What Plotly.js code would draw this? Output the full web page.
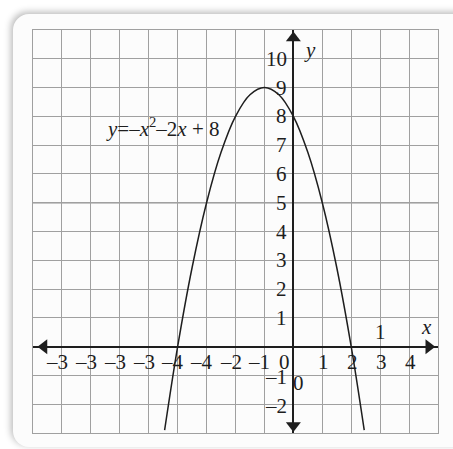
<!DOCTYPE html>
<html>
<head>
<meta charset="utf-8">
<script src="https://cdn.plot.ly/plotly-3.0.1.min.js"></script>
<style>
  html, body { margin: 0; padding: 0; background: #ffffff; width: 453px; height: 449px; overflow: hidden; }
  #card { position: absolute; left: 13px; top: 14px; width: 470px; height: 433px;
          background: #fcfcfc; border-radius: 16px;
          box-shadow: -2px -2px 7px rgba(0,0,0,0.28); }
  #chart { position: absolute; left: 0; top: 0; width: 453px; height: 449px; }
</style>
</head>
<body>
<div id="card"></div>
<div id="chart"></div>
<script>
// Curve points (y = -x^2 - 2x + 8)
const curveX = [-4.45, -4, -3.5, -3, -2.5, -2, -1.5, -1, -0.5, 0, 0.5, 1, 1.5, 2, 2.45];
const curveY = [-2.9, 0, 2.75, 5, 6.75, 8, 8.75, 9, 8.75, 8, 6.75, 5, 2.75, 0, -2.9];

// Tick labels as printed in the picture
const xTickVals = [-8, -7, -6, -5, -4, -3, -2, -1, 0, 1, 2, 3, 4];
const xTickText = ["\u20133", "\u20133", "\u20133", "\u20133", "\u20134", "\u20134", "\u20132", "\u20131", "0", "1", "2", "3", "4"];
const yTickVals = [10, 9, 8, 7, 6, 5, 4, 3, 2, 1, -1, -2];
const yTickText = ["10", "9", "8", "7", "6", "5", "4", "3", "2", "1", "\u20131", "\u20132"];

// Extra stray labels printed in the picture
const strayX = [0.17, 3];
const strayY = [-1.25, 0.5];
const strayText = ["0", "1"];

const eqText = "<i>y</i>=\u2013<i>x</i><sup>2</sup>\u20132<i>x</i> + 8";
const eqPos = [-4.5, 7.6];

const xRange = [-9, 5];
const yRange = [-3, 11];

const FONT = "'Liberation Serif', 'Times New Roman', serif";
const INK = "#1e1e1e";
const GRID = "#a0a0a0";
const FS = 21;

const annotations = [];
xTickVals.forEach((v, i) => {
  const t = xTickText[i];
  let shift = 1;
  if (t.startsWith("\u2013")) shift = -5;
  if (t === "0") shift = -9;
  annotations.push({ x: v, y: 0, xref: "x", yref: "y", text: t, showarrow: false,
    xanchor: "center", yanchor: "middle", xshift: shift, yshift: -15,
    font: { family: FONT, size: FS, color: INK } });
});
yTickVals.forEach((v, i) => {
  annotations.push({ x: 0, y: v, xref: "x", yref: "y", text: yTickText[i], showarrow: false,
    xanchor: "right", yanchor: "middle", xshift: -4, yshift: v < 0 ? -2 : 0,
    font: { family: FONT, size: FS, color: INK } });
});
strayX.forEach((v, i) => {
  annotations.push({ x: v, y: strayY[i], xref: "x", yref: "y", text: strayText[i], showarrow: false,
    xanchor: "center", yanchor: "middle",
    font: { family: FONT, size: FS, color: INK } });
});
annotations.push({ x: 0.57, y: 10.3, xref: "x", yref: "y", text: "<i>y</i>", showarrow: false,
  font: { family: FONT, size: FS, color: INK } });
annotations.push({ x: 4.6, y: 0.67, xref: "x", yref: "y", text: "<i>x</i>", showarrow: false,
  font: { family: FONT, size: FS, color: INK } });
annotations.push({ x: eqPos[0], y: eqPos[1], xref: "x", yref: "y", text: eqText, showarrow: false,
  xanchor: "center", yanchor: "middle",
  font: { family: FONT, size: FS, color: INK } });

const traces = [
  { x: curveX, y: curveY, mode: "lines", type: "scatter",
    line: { color: INK, width: 1.5, shape: "spline", smoothing: 1.0 }, hoverinfo: "skip" },
  { x: [4.68, -8.62, 0, 0], y: [0, 0, 10.72, -2.74], mode: "markers", type: "scatter",
    marker: { symbol: ["triangle-right", "triangle-left", "triangle-up", "triangle-down"],
              size: 13, color: INK, line: { width: 0 } },
    cliponaxis: false, hoverinfo: "skip" }
];

const layout = {
  width: 453, height: 449,
  margin: { l: 33, r: 15, t: 30, b: 16, pad: 0 },
  font: { family: FONT, size: FS, color: INK },
  paper_bgcolor: "rgba(0,0,0,0)",
  plot_bgcolor: "rgba(0,0,0,0)",
  showlegend: false,
  xaxis: { range: xRange, dtick: 1, tick0: 0, showgrid: true, gridcolor: GRID, gridwidth: 1,
           zeroline: true, zerolinecolor: INK, zerolinewidth: 2,
           showline: true, mirror: true, linecolor: GRID, linewidth: 1,
           ticks: "", showticklabels: false, fixedrange: true },
  yaxis: { range: yRange, dtick: 1, tick0: 0, showgrid: true, gridcolor: GRID, gridwidth: 1,
           zeroline: true, zerolinecolor: INK, zerolinewidth: 2,
           showline: true, mirror: true, linecolor: GRID, linewidth: 1,
           ticks: "", showticklabels: false, fixedrange: true },
  shapes: [
    { type: "line", xref: "paper", x0: 0, x1: 1, yref: "y", y0: 5, y1: 5,
      line: { color: "#909090", width: 1.6 }, layer: "below" }
  ],
  annotations: annotations
};

Plotly.newPlot("chart", traces, layout, { staticPlot: true, displayModeBar: false });
</script>
</body>
</html>
